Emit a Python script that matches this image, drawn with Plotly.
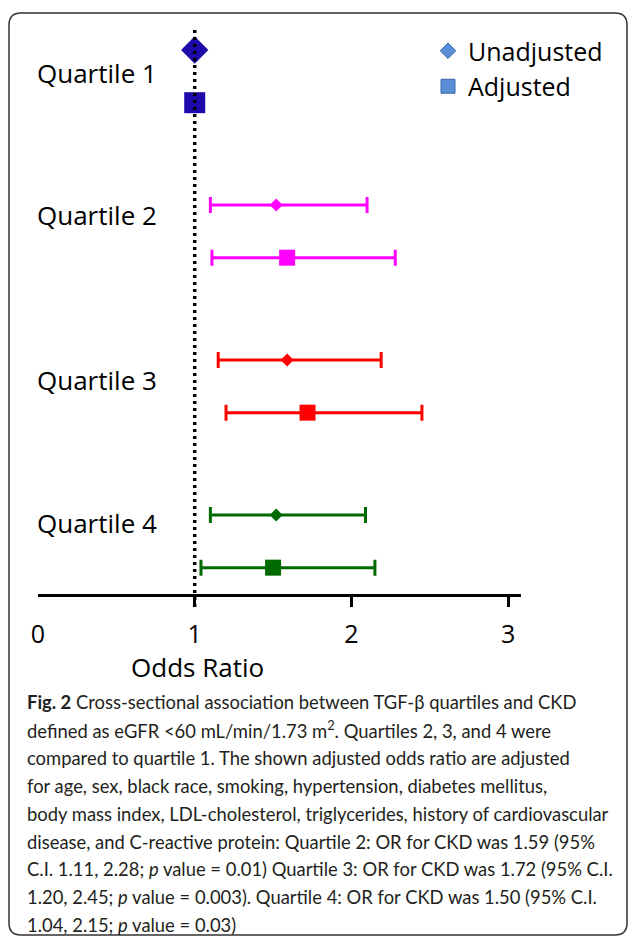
import plotly.graph_objects as go

# ---- data ----
quartiles = ["Quartile 1", "Quartile 2", "Quartile 3", "Quartile 4"]
unadj_or = [1.0, 1.52, 1.59, 1.52]
unadj_lo = [None, 1.10, 1.15, 1.10]
unadj_hi = [None, 2.10, 2.19, 2.09]
adj_or = [1.0, 1.59, 1.72, 1.50]
adj_lo = [None, 1.11, 1.20, 1.04]
adj_hi = [None, 2.28, 2.45, 2.15]
x_ticks = [0, 1, 2, 3]
x_ticktext = ["0", "1", "2", "3"]
series_names = ["Unadjusted", "Adjusted"]
caption_lines = [
    "<b>Fig. 2</b> Cross-sectional association between TGF-β quartiles and CKD",
    "defined as eGFR &lt;60 mL/min/1.73 m<sup>2</sup>. Quartiles 2, 3, and 4 were",
    "compared to quartile 1. The shown adjusted odds ratio are adjusted",
    "for age, sex, black race, smoking, hypertension, diabetes mellitus,",
    "body mass index, LDL-cholesterol, triglycerides, history of cardiovascular",
    "disease, and C-reactive protein: Quartile 2: OR for CKD was 1.59 (95%",
    "C.I. 1.11, 2.28; <i>p</i> value = 0.01) Quartile 3: OR for CKD was 1.72 (95% C.I.",
    "1.20, 2.45; <i>p</i> value = 0.003). Quartile 4: OR for CKD was 1.50 (95% C.I.",
    "1.04, 2.15; <i>p</i> value = 0.03)",
]

# ---- styles / layout ----
colors = ["#1E0AAA", "#FF00FF", "#FF0000", "#006A00"]
W, H = 629, 938
L, R, T, B = 38, 521, 30, 594
PW, PH = R - L, B - T
ADJ_OFFSET = 0.34
CHART_FONT = "Open Sans"
CAP_FONT = "Lato"


def px_x(px):
    return (px - L) / PW


def px_y(py):
    return (B - py) / PH


fig = go.Figure()

for i, q in enumerate(quartiles):
    big = i == 0
    for k, (orv, lo, hi) in enumerate([(unadj_or[i], unadj_lo[i], unadj_hi[i]),
                                        (adj_or[i], adj_lo[i], adj_hi[i])]):
        symbol = "diamond" if k == 0 else "square"
        if big:
            size = 21
        else:
            size = 10 if k == 0 else 16
        err = None
        if lo is not None:
            err = dict(type="data", symmetric=False, array=[hi - orv],
                       arrayminus=[orv - lo], color=colors[i], thickness=3,
                       width=8)
        fig.add_trace(go.Scatter(
            x=[orv], y=[i + (ADJ_OFFSET if k == 1 else 0)], mode="markers",
            marker=dict(symbol=symbol, size=size, color=colors[i],
                        line=dict(width=0)),
            error_x=err, showlegend=False, hoverinfo="skip"))

# legend entries
for name, sym, sz in zip(series_names, ["diamond", "square"], [12, 14]):
    fig.add_trace(go.Scatter(
        x=[None], y=[None], mode="markers", name=name,
        marker=dict(symbol=sym, size=sz, color="#5A8ED6",
                    line=dict(color="#3A66A8", width=1))))

# invisible trace for tick-mark overlay axis
fig.add_trace(go.Scatter(x=[None], y=[None], xaxis="x2", showlegend=False,
                         hoverinfo="skip"))

shapes = []
# dotted reference line at OR = 1
shapes.append(dict(type="line", xref="x", yref="paper", x0=1, x1=1,
                   y0=px_y(607), y1=px_y(28),
                   line=dict(color="black", width=3.5, dash="3px,4px")))
# rounded border
bx0, by0, bx1, by1, rr = 9, 13, 627, 935, 12
rx, ry = rr / PW, rr / PH
x0p, x1p, y0p, y1p = px_x(bx0), px_x(bx1), px_y(by0), px_y(by1)
path = (f"M {x0p + rx},{y0p} L {x1p - rx},{y0p} Q {x1p},{y0p} {x1p},{y0p - ry} "
        f"L {x1p},{y1p + ry} Q {x1p},{y1p} {x1p - rx},{y1p} "
        f"L {x0p + rx},{y1p} Q {x0p},{y1p} {x0p},{y1p + ry} "
        f"L {x0p},{y0p - ry} Q {x0p},{y0p} {x0p + rx},{y0p} Z")
shapes.append(dict(type="path", xref="paper", yref="paper", path=path,
                   line=dict(color="#333333", width=1.5)))

annotations = []
label_y_px = [73, 215, 380, 523]
for q, ypx in zip(quartiles, label_y_px):
    annotations.append(dict(text=q, xref="paper", yref="paper", x=px_x(35),
                            y=px_y(ypx), xanchor="left", yanchor="middle",
                            showarrow=False,
                            font=dict(family=CHART_FONT, size=26, color="black")))
annotations.append(dict(text="Odds Ratio", xref="paper", yref="paper",
                        x=px_x(197), y=px_y(667), xanchor="center",
                        yanchor="middle", showarrow=False,
                        font=dict(family=CHART_FONT, size=26, color="black")))
for j, line in enumerate(caption_lines):
    annotations.append(dict(text=line, xref="paper", yref="paper", x=px_x(25),
                            y=px_y(702 + 27.9 * j), xanchor="left",
                            yanchor="middle", showarrow=False,
                            font=dict(family=CAP_FONT, size=18.4, color="#231F20")))

xr = [0, (R - L) / 156.7]
fig.update_layout(
    width=W, height=H, margin=dict(l=L, r=W - R, t=T, b=H - B),
    paper_bgcolor="white", plot_bgcolor="white",
    xaxis=dict(range=xr, tickvals=x_ticks, ticktext=x_ticktext,
               ticks="outside", ticklen=16, tickcolor="rgba(0,0,0,0)",
               showline=True, linecolor="black", linewidth=3,
               showgrid=False, zeroline=False, fixedrange=True,
               tickfont=dict(family=CHART_FONT, size=25, color="black")),
    xaxis2=dict(range=xr, overlaying="x", side="bottom", tickvals=[1, 2, 3],
                ticks="outside", ticklen=12, tickwidth=3, tickcolor="black",
                showticklabels=False, showline=False, showgrid=False,
                zeroline=False),
    yaxis=dict(range=[3.51, -0.129], visible=False, showgrid=False,
               zeroline=False),
    legend=dict(x=px_x(428), y=px_y(28), xanchor="left", yanchor="top",
                bgcolor="rgba(0,0,0,0)", tracegroupgap=0,
                font=dict(family=CHART_FONT, size=25, color="black")),
    shapes=shapes, annotations=annotations,
)

fig.write_html("out.html", config={"displayModeBar": False},
               post_script="document.body.style.margin='0px';"
                           "document.body.style.overflow='hidden';")
